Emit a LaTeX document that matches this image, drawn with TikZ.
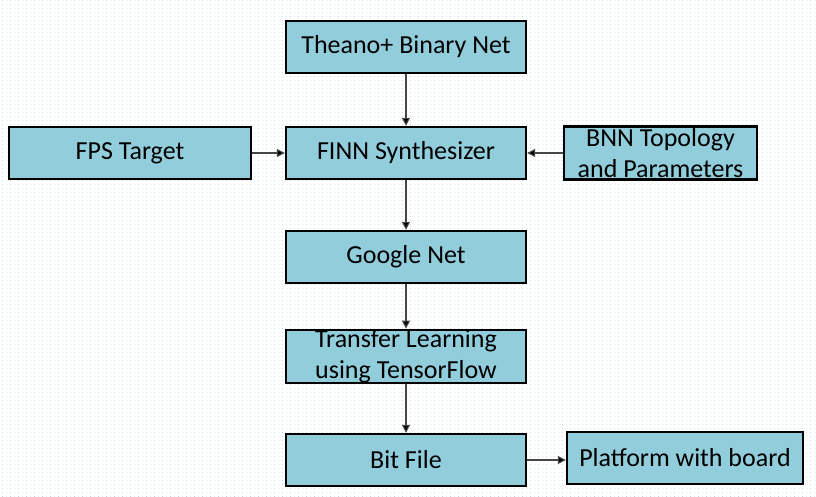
\documentclass[tikz,border=0pt]{standalone}
\usepackage{fontspec}
\setmainfont{Carlito}
\usetikzlibrary{arrows.meta}
\definecolor{boxfill}{RGB}{146,205,220}
\definecolor{gridblue}{RGB}{185,220,235}
\definecolor{arrowgrey}{RGB}{70,70,70}
\tikzset{
  box/.style={draw=black, line width=2.4pt, fill=boxfill, rectangle, inner sep=0pt,
    align=center, font=\fontsize{26}{31}\selectfont, text=black},
  conn/.style={draw=arrowgrey, line width=1.1pt, -{Triangle[length=8pt,width=8pt,fill=black]}}
}
\begin{document}
\begin{tikzpicture}[x=1pt,y=-1pt]
\useasboundingbox (0,0) rectangle (816,497);
\fill[white] (0,0) rectangle (816,497);
\foreach \gx in {2,10,...,816} {
  \draw[gridblue, line width=0.9pt, dash pattern=on 1pt off 3pt] (\gx,0) -- (\gx,497);
}
\foreach \gx in {6,14,...,816} {
  \draw[gridblue!50, line width=0.7pt, dash pattern=on 1pt off 3pt] (\gx,0) -- (\gx,497);
}
\node[box, minimum width=240, minimum height=52] (theano) at (406,47) {Theano+ Binary Net};
\node[box, minimum width=240, minimum height=52] (finn) at (406,153) {FINN Synthesizer};
\node[box, minimum width=242, minimum height=52] (fps) at (130,153) {FPS Target};
\node[box, minimum width=193, minimum height=53] (bnn) at (660.5,153) {BNN Topology\\and Parameters};
\node[box, minimum width=240, minimum height=52] (google) at (406,257) {Google Net};
\node[box, minimum width=240, minimum height=51] (transfer) at (406,356.5) {Transfer Learning\\using TensorFlow};
\node[box, minimum width=240, minimum height=52] (bit) at (406,460) {Bit File};
\node[box, minimum width=236, minimum height=52] (plat) at (685,458) {Platform with board};
\draw[conn] (theano) -- (finn);
\draw[conn] (fps) -- (finn);
\draw[conn] (bnn) -- (finn);
\draw[conn] (finn) -- (google);
\draw[conn] (google) -- (transfer);
\draw[conn] (transfer) -- (bit);
\draw[conn] (bit.east) -- (bit.east -| plat.west);
\end{tikzpicture}
\end{document}
